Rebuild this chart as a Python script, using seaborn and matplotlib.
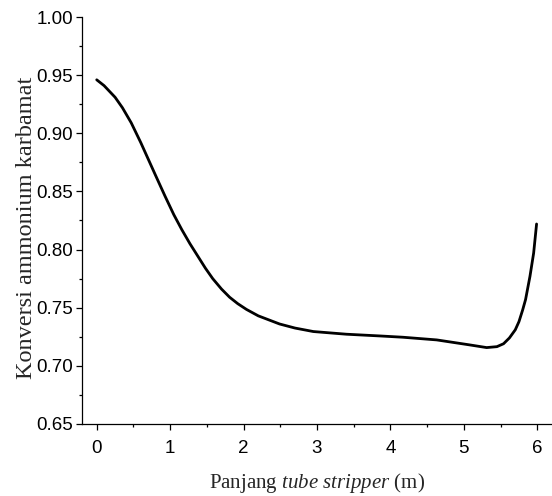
import numpy as np
import pandas as pd
import matplotlib
matplotlib.use("Agg")
import matplotlib.pyplot as plt
import seaborn as sns
from matplotlib.ticker import MultipleLocator, FormatStrFormatter

# values
panjang = [0.0, 0.1, 0.25, 0.35, 0.47, 0.6, 0.7, 0.8, 0.93, 1.05, 1.16,
           1.27, 1.38, 1.48, 1.58, 1.7, 1.81, 1.92, 2.04, 2.2, 2.49, 2.7,
           2.95, 3.4, 3.86, 4.17, 4.63, 5.08, 5.31, 5.45, 5.54, 5.62, 5.7,
           5.75, 5.8, 5.84, 5.9, 5.95, 5.99]
konversi = [0.946, 0.941, 0.931, 0.922, 0.909, 0.892, 0.878, 0.864, 0.846,
            0.830, 0.817, 0.805, 0.794, 0.784, 0.775, 0.766, 0.759, 0.7535,
            0.7485, 0.743, 0.736, 0.7325, 0.7295, 0.7272, 0.7257, 0.7246,
            0.7223, 0.718, 0.7157, 0.7165, 0.719, 0.724, 0.731, 0.738,
            0.748, 0.757, 0.777, 0.797, 0.822]

df = pd.DataFrame({"panjang": panjang, "konversi": konversi})

sns.set_style("ticks")
plt.rcParams["font.family"] = ["Liberation Sans", "DejaVu Sans"]
plt.rcParams["mathtext.fontset"] = "custom"
plt.rcParams["mathtext.rm"] = "Liberation Serif"
plt.rcParams["mathtext.it"] = "Liberation Serif:italic"

fig = plt.figure(figsize=(5.52, 4.96), dpi=100)
ax = fig.add_axes([0.1486, 0.1452, 0.8514, 0.8205])

sns.lineplot(data=df, x="panjang", y="konversi", ax=ax, color="black",
             linewidth=2.0)

ax.set_xlim(-0.2, 6.2)
ax.set_ylim(0.65, 1.00)
ax.xaxis.set_major_locator(MultipleLocator(1))
ax.xaxis.set_minor_locator(MultipleLocator(0.5))
ax.yaxis.set_major_locator(MultipleLocator(0.05))
ax.yaxis.set_minor_locator(MultipleLocator(0.025))
ax.yaxis.set_major_formatter(FormatStrFormatter("%.2f"))

for s in ["top", "right"]:
    ax.spines[s].set_visible(False)
for s in ["left", "bottom"]:
    ax.spines[s].set_linewidth(0.9)
    ax.spines[s].set_color("black")

ax.tick_params(which="major", direction="out", length=4.5, width=0.9,
               labelsize=13.5, colors="black")
ax.tick_params(axis="x", which="major", pad=7)
ax.tick_params(axis="y", which="major", pad=2)
ax.tick_params(which="minor", direction="out", length=2.5, width=0.9,
               colors="black")

ax.set_xlabel("Panjang $\\it{tube}$ $\\it{stripper}$ (m)", fontsize=15,
              family="Liberation Serif", labelpad=10)
ax.set_ylabel("Konversi ammonium karbamat", fontsize=17.5,
              family="Liberation Serif")
ax.yaxis.set_label_coords(-0.096, 0.483)

fig.savefig("out.png", dpi=100)
